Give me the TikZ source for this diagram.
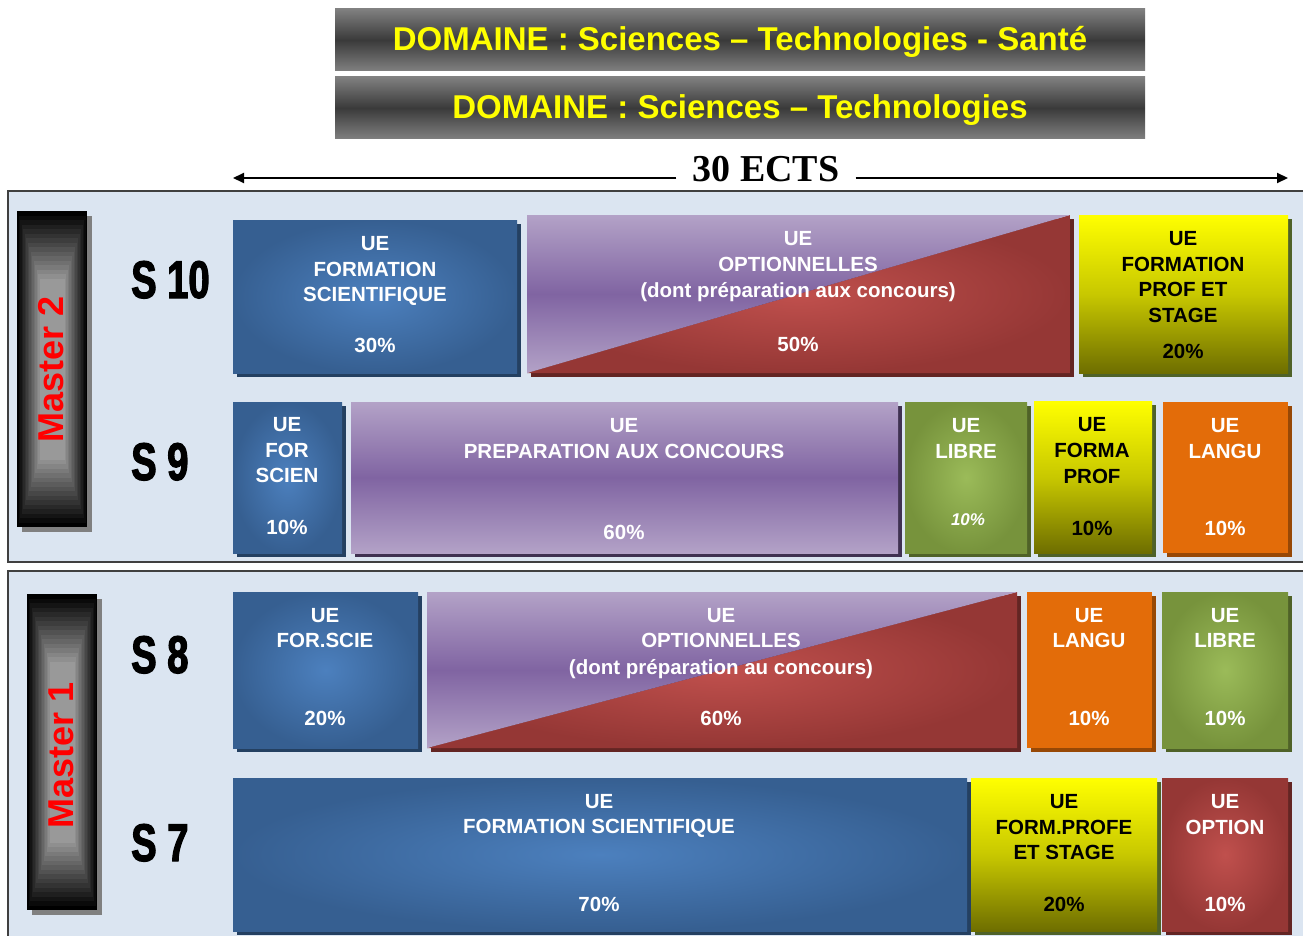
\documentclass[tikz,border=0pt]{standalone}
\usepackage{fontspec}
\setmainfont{Liberation Sans}
\setsansfont{Liberation Sans}
\newfontfamily\serifb{Liberation Serif}
\newfontfamily\semfont[FakeBold=2.2,FakeStretch=0.72]{Liberation Sans}
\usetikzlibrary{arrows.meta}
\definecolor{blueC}{RGB}{76,128,190}
\definecolor{blueE}{RGB}{54,95,145}
\definecolor{blueS}{RGB}{36,64,97}
\definecolor{purT}{RGB}{179,162,199}
\definecolor{purM}{RGB}{128,100,162}
\definecolor{purS}{RGB}{63,49,81}
\definecolor{redC}{RGB}{192,80,77}
\definecolor{redE}{RGB}{149,55,53}
\definecolor{redS}{RGB}{99,37,35}
\definecolor{yelT}{RGB}{255,255,0}
\definecolor{yelB}{RGB}{110,110,0}
\definecolor{yelS}{RGB}{79,98,40}
\definecolor{grnC}{RGB}{155,187,89}
\definecolor{grnE}{RGB}{119,147,60}
\definecolor{grnS}{RGB}{79,98,40}
\definecolor{orgC}{RGB}{227,108,9}
\definecolor{orgS}{RGB}{151,72,6}
\definecolor{panel}{RGB}{219,229,241}
\definecolor{panB}{RGB}{64,64,64}
\definecolor{banG}{RGB}{128,128,128}
\definecolor{banD}{RGB}{58,58,58}
\definecolor{barS}{RGB}{128,128,128}
\newcommand\ubx[6]{%
  \fill[#6] (#1+4,#2+4) rectangle (#3+4,#4+4);
  \path[#5] (#1,#2) rectangle (#3,#4);}
\newcommand\dbx[4]{%
  \fill[redS] (#1+4,#2+4) rectangle (#3+4,#4+4);
  \begin{scope}
    \clip (#1,#4) -- (#3,#2) -- (#3,#4) -- cycle;
    \path[redshade] (#1,#2) rectangle (#3,#4);
  \end{scope}
  \begin{scope}
    \clip (#1,#2) -- (#3,#2) -- (#1,#4) -- cycle;
    \path[purshade] (#1,#2) rectangle (#3,#4);
  \end{scope}}
\newcommand\mbar[4]{%
  \fill[barS] (#1+5,#2+5) rectangle (#3+5,#4+5);
  \foreach \i in {0,...,15}{%
    \pgfmathtruncatemacro\pk{100-\i*4}
    \fill[black!\pk] (#1+\i*1.5,#2+\i*4.5) rectangle (#3-\i*1.5,#4-\i*4.5);}}
\newcommand\T[5]{\node[#4] (#1) at (#2,#3) {#5};}
\tikzset{
  blueshade/.style={inner color=blueC, outer color=blueE},
  redshade/.style={inner color=redC, outer color=redE},
  grnshade/.style={inner color=grnC, outer color=grnE},
  purshade/.style={top color=purT, bottom color=purT, middle color=purM},
  yelshade/.style={top color=yelT, bottom color=yelB, middle color={rgb,255:red,200;green,200;blue,0}},
  orgshade/.style={fill=orgC},
  lbl/.style={font=\bfseries\fontsize{20.5}{24}\selectfont, text=white, anchor=base, inner sep=0pt},
  lblk/.style={lbl, text=black},
  sem/.style={font=\semfont\bfseries\fontsize{53}{60}\selectfont, anchor=base west, inner sep=0pt},
  mst/.style={font=\bfseries\fontsize{36}{40}\selectfont, text=red, rotate=90, inner sep=0pt},
  ban/.style={font=\bfseries\fontsize{33}{38}\selectfont, text=yelT, anchor=base, inner sep=0pt},
}
\begin{document}
\begin{tikzpicture}[x=1pt,y=-1pt]
\useasboundingbox (0,0) rectangle (1303,936);
% banners
\path[top color=banG, bottom color=banG, middle color=banD] (335,9) rectangle (1145,71);
\path[top color=banG, bottom color=banG, middle color=banD] (335,77) rectangle (1145,139);
\T{b1}{740}{51}{ban}{DOMAINE : Sciences – Technologies - Santé}
\T{b2}{740}{119}{ban}{DOMAINE : Sciences – Technologies}
% ECTS arrow
\node[font=\serifb\bfseries\fontsize{38}{40}\selectfont, inner xsep=16pt, inner ysep=0pt, anchor=base] (ects) at (766,182) {30 ECTS};
\coordinate (al) at (233,178);
\coordinate (ar) at (1288,178);
\draw[line width=2pt, -{Triangle[length=11pt,width=10pt]}] (ects.west |- al) -- (al);
\draw[line width=2pt, -{Triangle[length=11pt,width=10pt]}] (ects.east |- ar) -- (ar);
% panels
\draw[line width=1.5pt, draw=panB, fill=panel] (8,191) rectangle (1312,562);
\draw[line width=1.5pt, draw=panB, fill=panel] (8,571) rectangle (1312,950);
% master bars
\mbar{17}{211}{87}{527}
\mbar{27}{594}{97}{910}
\T{m2}{51}{369}{mst}{Master 2}
\T{m1}{61}{755}{mst}{Master 1}
% semesters
\T{s10}{131}{298}{sem}{S 10}
\T{s9}{131}{480}{sem}{S 9}
\T{s8}{131}{673}{sem}{S 8}
\T{s7}{131}{861}{sem}{S 7}
% S10 row
\ubx{233}{220}{517}{373}{blueshade}{blueS}
\dbx{527}{215}{1070}{373}
\ubx{1079}{215}{1288}{373}{yelshade}{yelS}
\T{a1}{375}{250}{lbl}{UE}
\T{a2}{375}{276}{lbl}{FORMATION}
\T{a3}{375}{301}{lbl}{SCIENTIFIQUE}
\T{a4}{375}{352}{lbl}{30\%}
\T{b1a}{798}{245}{lbl}{UE}
\T{b2a}{798}{271}{lbl}{OPTIONNELLES}
\T{b3a}{798}{297}{lbl}{(dont préparation aux concours)}
\T{b4a}{798}{351}{lbl}{50\%}
\T{c1}{1183}{245}{lblk}{UE}
\T{c2}{1183}{271}{lblk}{FORMATION}
\T{c3}{1183}{296}{lblk}{PROF ET}
\T{c4}{1183}{322}{lblk}{STAGE}
\T{c5}{1183}{358}{lblk}{20\%}
% S9 row
\ubx{233}{402}{342}{553}{blueshade}{blueS}
\ubx{351}{402}{898}{553}{purshade}{purS}
\ubx{905}{402}{1027}{553}{grnshade}{grnS}
\ubx{1034}{401}{1152}{553}{yelshade}{yelS}
\ubx{1163}{402}{1288}{553}{orgshade}{orgS}
\T{d1}{287}{431}{lbl}{UE}
\T{d2}{287}{457}{lbl}{FOR}
\T{d3}{287}{482}{lbl}{SCIEN}
\T{d4}{287}{534}{lbl}{10\%}
\T{e1}{624}{432}{lbl}{UE}
\T{e2}{624}{458}{lbl}{PREPARATION AUX CONCOURS}
\T{e3}{624}{539}{lbl}{60\%}
\T{f1}{966}{432}{lbl}{UE}
\T{f2}{966}{458}{lbl}{LIBRE}
\T{f3}{968}{525}{lbl,font=\bfseries\itshape\fontsize{17}{20}\selectfont}{10\%}
\T{g1}{1092}{431}{lblk}{UE}
\T{g2}{1092}{457}{lblk}{FORMA}
\T{g3}{1092}{483}{lblk}{PROF}
\T{g4}{1092}{535}{lblk}{10\%}
\T{h1}{1225}{432}{lbl}{UE}
\T{h2}{1225}{458}{lbl}{LANGU}
\T{h3}{1225}{535}{lbl}{10\%}
% S8 row
\ubx{233}{592}{418}{748}{blueshade}{blueS}
\dbx{427}{592}{1017}{748}
\ubx{1027}{592}{1152}{748}{orgshade}{orgS}
\ubx{1162}{592}{1288}{748}{grnshade}{grnS}
\T{i1}{325}{622}{lbl}{UE}
\T{i2}{325}{647}{lbl}{FOR.SCIE}
\T{i3}{325}{725}{lbl}{20\%}
\T{j1}{721}{622}{lbl}{UE}
\T{j2}{721}{647}{lbl}{OPTIONNELLES}
\T{j3}{721}{674}{lbl}{(dont préparation au concours)}
\T{j4}{721}{725}{lbl}{60\%}
\T{k1}{1089}{622}{lbl}{UE}
\T{k2}{1089}{647}{lbl}{LANGU}
\T{k3}{1089}{725}{lbl}{10\%}
\T{l1}{1225}{622}{lbl}{UE}
\T{l2}{1225}{647}{lbl}{LIBRE}
\T{l3}{1225}{725}{lbl}{10\%}
% S7 row
\ubx{233}{778}{967}{931}{blueshade}{blueS}
\ubx{971}{778}{1157}{931}{yelshade}{yelS}
\ubx{1162}{778}{1288}{931}{redshade}{redS}
\T{n1}{599}{808}{lbl}{UE}
\T{n2}{599}{833}{lbl}{FORMATION SCIENTIFIQUE}
\T{n3}{599}{911}{lbl}{70\%}
\T{o1}{1064}{808}{lblk}{UE}
\T{o2}{1064}{834}{lblk}{FORM.PROFE}
\T{o3}{1064}{859}{lblk}{ET STAGE}
\T{o4}{1064}{911}{lblk}{20\%}
\T{p1}{1225}{808}{lbl}{UE}
\T{p2}{1225}{834}{lbl}{OPTION}
\T{p3}{1225}{911}{lbl}{10\%}
\end{tikzpicture}
\end{document}
